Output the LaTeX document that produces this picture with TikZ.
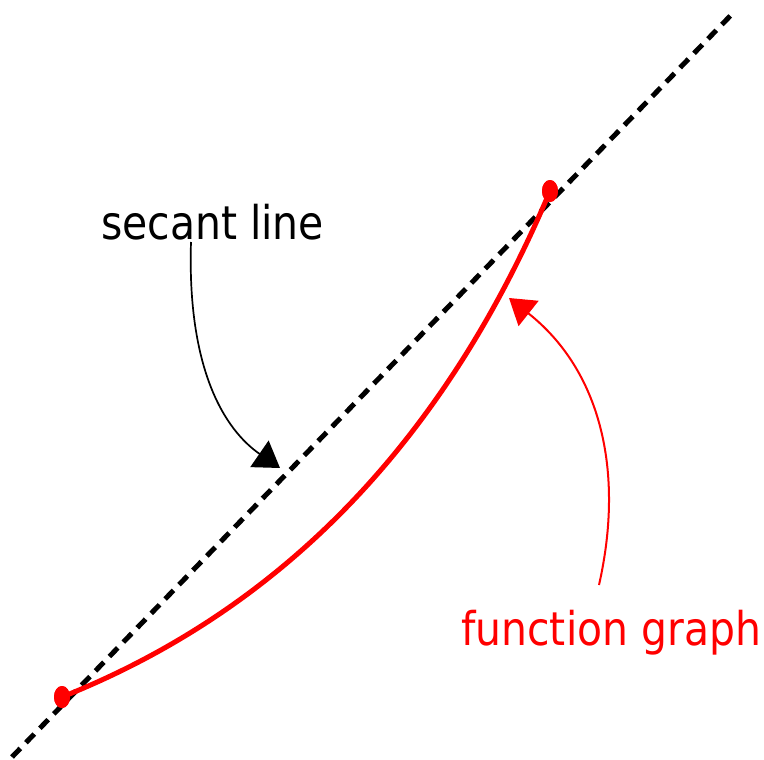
\documentclass[tikz,border=0pt]{standalone}
\usepackage{fontspec}
\setmainfont{DejaVu Sans}[FakeStretch=0.88]
\usepackage{tikz}
\usetikzlibrary{arrows.meta, shapes.geometric}
\definecolor{graphred}{RGB}{255, 0, 0}

\tikzset{
  secline/.style={line width=5pt, dash pattern=on 12pt off 8pt},
  graphcurve/.style={line width=5pt, graphred},
  ptdot/.style={ellipse, fill=graphred, minimum width=16pt, minimum height=22pt, inner sep=0pt},
  lbl/.style={anchor=base west, inner sep=0pt, font=\fontsize{46.5}{46.5}\selectfont},
  pointer/.style={line width=1.7pt, -{Triangle[length=25pt, width=32pt]}}
}

\begin{document}
\begin{tikzpicture}[x=1pt, y=-1pt]
  \useasboundingbox (0,0) rectangle (764,760);

  % secant through the two points
  \coordinate (lo) at (12,757);
  \coordinate (hi) at (735,11);
  \draw[secline] (lo) -- (hi);

  % the graph between the points
  \node[ptdot] (pa) at (62,697) {};
  \node[ptdot] (pb) at (550,191) {};
  \draw[graphcurve] (pa.center) .. controls (283,609) and (445,440) .. (pb.center);
  \node[ptdot] at (pa.center) {};
  \node[ptdot] at (pb.center) {};

  % labels
  \node[lbl] (seclbl) at (101,239) {secant line};
  \node[lbl, graphred] (fnlbl) at (461,645) {function graph};

  % pointers
  \coordinate (secstart) at (191,242);
  \coordinate (sectip) at (280,468);
  \draw[pointer] (secstart) .. controls (187,370) and (225,430) .. (sectip);

  \coordinate (fnstart) at (599,585);
  \coordinate (fntip) at (509,298);
  \draw[pointer, graphred, line width=2pt] (fnstart) .. controls (625,470) and (600,370) .. (fntip);
\end{tikzpicture}
\end{document}
